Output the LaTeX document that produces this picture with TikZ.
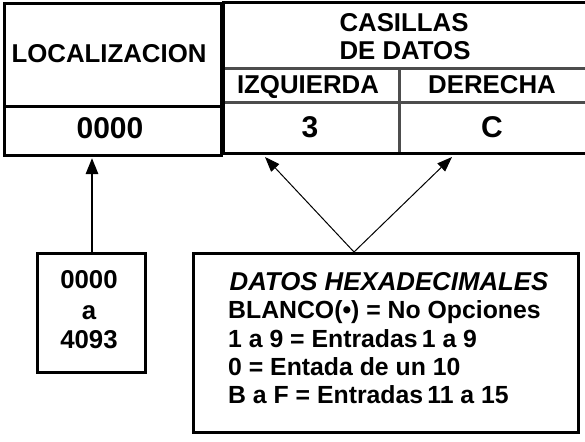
\documentclass[tikz,border=0pt]{standalone}
\usepackage{fontspec}
\setmainfont{Liberation Sans}
\usetikzlibrary{arrows.meta}
\definecolor{grayline}{HTML}{4D4D4D}
\begin{document}
\begin{tikzpicture}[x=1pt,y=-1pt,
  txt/.style={inner sep=0pt,font=\fontsize{25.8}{30}\selectfont\bfseries},
  listtxt/.style={inner sep=0pt,anchor=base west,font=\fontsize{24.8}{29}\selectfont\bfseries},
  bigtxt/.style={inner sep=0pt,font=\fontsize{30}{34}\selectfont\bfseries},
  boxline/.style={line width=3pt,black},
  cellline/.style={line width=3pt,grayline},
  thinarrow/.style={line width=1pt,-{Triangle[length=15pt,width=11pt]}},
  thickarrow/.style={line width=2.7pt,-{Triangle[length=16pt,width=12pt]}}]
\useasboundingbox (0,0) rectangle (585,441);
% left box
\node[boxline,draw,inner sep=0pt,minimum width=217pt,minimum height=151pt] (locbox) at (112.5,79.5) {};
\draw[boxline] (4,106) -- (221,106);
\coordinate (loctarget) at (92,158);
% right box
\draw[boxline] (585,3) -- (223,3) -- (223,153) -- (585,153);
\draw[cellline] (224.5,69) -- (585,69);
\draw[cellline] (224.5,102) -- (585,102);
\draw[cellline] (399,69) -- (399,151.5);
% texts top
\node[txt,anchor=base] (loctitle) at (109,62.5) {LOCALIZACION};
\node[bigtxt,anchor=base] (locval) at (110,138) {0000};
\node[txt,anchor=base] (cas1) at (404,32) {CASILLAS};
\node[txt,anchor=base] (cas2) at (405,60) {DE DATOS};
\node[txt,anchor=base] (izq) at (308,93) {IZQUIERDA};
\node[txt,anchor=base] (der) at (492,93) {DERECHA};
\node[bigtxt,anchor=base] (izqval) at (310,137) {3};
\node[bigtxt,anchor=base] (derval) at (492,137) {C};
% small box
\node[boxline,draw,inner sep=0pt,minimum width=108pt,minimum height=119pt] (rango) at (91,312.5) {};
\node[txt,anchor=base] (r1) at (89,288) {0000};
\node[txt,anchor=base] (r2) at (89,319) {a};
\node[txt,anchor=base] (r3) at (89,348) {4093};
% hex box
\node[boxline,draw,inner sep=0pt,minimum width=385pt,minimum height=179pt] (hexbox) at (385.5,342.5) {};
\node[txt,anchor=base,font=\fontsize{25.8}{30}\selectfont\bfseries\itshape] (h1) at (389,290) {DATOS HEXADECIMALES};
\node[listtxt] (h2) at (228,318) {BLANCO(•) = No Opciones};
\node[listtxt] (h3) at (228,347) {1 a 9 = Entradas\,1 a 9};
\node[listtxt] (h4) at (228,375) {0 = Entada de un 10};
\node[listtxt] (h5) at (228,403) {B a F = Entradas\,11 a 15};
% arrows
\coordinate (apex) at (354,252);
\coordinate (tl) at (265,157);
\coordinate (tr) at (452,157);
\draw[thickarrow] (rango.north -| loctarget) -- (loctarget);
\draw[thinarrow] (apex) -- (tl);
\draw[thinarrow] (apex) -- (tr);
\end{tikzpicture}
\end{document}
